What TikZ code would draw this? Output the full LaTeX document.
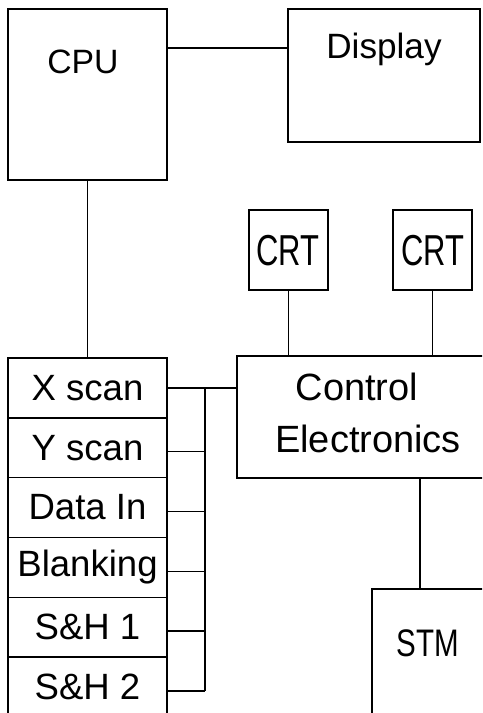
\documentclass[tikz,border=0pt]{standalone}
\usepackage{fontspec}
\usepackage{graphicx}
\setmainfont{Liberation Sans}
\usetikzlibrary{positioning}
\tikzset{>=latex,%
  blk/.style={draw,line width=1pt,inner sep=0pt,outer sep=0pt},%
  row/.style={blk,minimum width=3.975cm,minimum height=1.495cm,
    font=\fontsize{26}{30}\selectfont},%
  lbl/.style={anchor=base,inner sep=0pt}}

\begin{document}
\begin{tikzpicture}[x=0.025cm,y=-0.025cm,line width=1pt]
      \useasboundingbox (0,0) rectangle (482,713);
      \clip (0,0) rectangle (482,713);
      % boxes
      \node[blk,minimum width=3.975cm,minimum height=4.275cm] (cpu) at (87.5,94.5) {};
      \node[blk,minimum width=4.8cm,minimum height=3.325cm] (disp) at (384,75.5) {};
      \node[blk,minimum width=1.975cm,minimum height=2cm] (crt1) at (288.5,250) {};
      \node[blk,minimum width=1.975cm,minimum height=2cm] (crt2) at (432.5,250) {};
      \node[blk,minimum width=6.575cm,minimum height=3.05cm] (ctrl) at (368.5,417) {};
      \node[blk,minimum width=3.2cm,minimum height=3.775cm] (stm) at (436,664.5) {};
      \node[lbl,font=\fontsize{24}{28}\selectfont] (cputxt) at (83,73) {CPU};
      \node[lbl,font=\fontsize{25}{28}\selectfont] (disptxt) at (384,58) {Display};
      \node[lbl,font=\fontsize{22}{26}\selectfont] (crt1txt) at (288,265) {\scalebox{1}[1.4]{CRT}};
      \node[lbl,font=\fontsize{22}{26}\selectfont] (crt2txt) at (433,265) {\scalebox{1}[1.4]{CRT}};
      \node[lbl,font=\fontsize{27}{30}\selectfont] (ctrltxt) at (357,400) {Control};
      \node[lbl,font=\fontsize{27}{30}\selectfont] (electxt) at (368,452) {Electronics};
      \node[lbl,font=\fontsize{21}{26}\selectfont] (stmtxt) at (428,656) {\scalebox{1}[1.3]{STM}};
      % register stack
      \node[row] (xs) at (87.5,387.9) {X scan};
      \node[row,below=0pt of xs] (ys) {Y scan};
      \node[row,below=0pt of ys] (di) {Data In};
      \node[row,below=0pt of di] (bl) {Blanking};
      \node[row,below=0pt of bl] (sh1) {S\&H 1};
      \node[row,below=0pt of sh1] (sh2) {S\&H 2};
      % connections
      \coordinate (cd) at (0,48);
      \coordinate (bus) at (205,0);
      \coordinate (sl) at (420,0);
      \draw (cpu.east |- cd) -- (disp.west |- cd);
      \draw (cpu.south) -- (xs.north);
      \draw (crt1.south) -- (crt1.south |- ctrl.north);
      \draw (crt2.south) -- (crt2.south |- ctrl.north);
      \draw (ctrl.south -| sl) -- (stm.north -| sl);
      \draw (xs.east) -- (xs.east -| ctrl.west);
      \foreach \r in {ys,di,bl,sh1,sh2} {\draw ([yshift=-0.1cm]\r.east) -- ([yshift=-0.1cm]\r.east -| bus);};
      \draw (xs.east -| bus) -- ([yshift=-0.1cm]sh2.east -| bus);
    \end{tikzpicture}
\end{document}
